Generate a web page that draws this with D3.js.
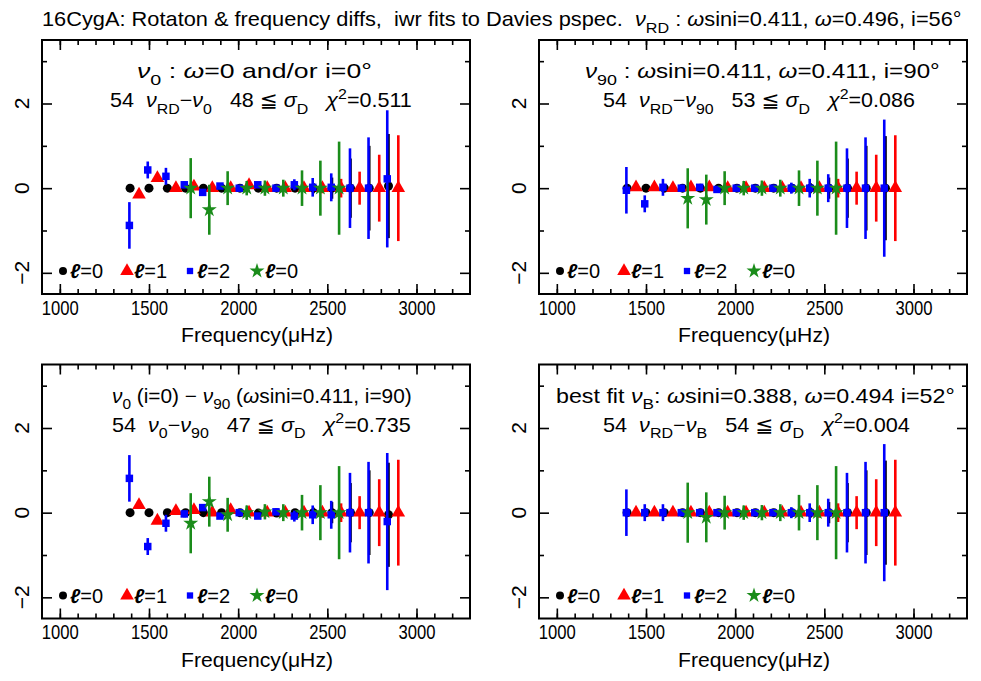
<!DOCTYPE html>
<html><head><meta charset="utf-8">
<script src="https://cdn.jsdelivr.net/npm/d3@7"></script>
<style>
body{margin:0;background:#fff}
svg{display:block}
text{font-family:"Liberation Sans","DejaVu Sans",Arial,sans-serif;fill:#000;white-space:pre}
</style>
</head><body>
<svg id="c" width="981" height="681"></svg>
<script>
// ---------- data ----------
const freqL0 = [1394,1500,1603,1705,1805,1907,2010,2113,2216,2319,2422,2526,2630,2735,2843];
const freqL1 = [1444,1547,1651,1752,1855,1958,2061,2163,2264,2369,2472,2577,2681,2791,2898];
const freqL2 = [1390,1493,1595,1698,1801,1898,2006,2110,2212,2315,2418,2522,2627,2731,2836];
const freqL3 = [1734,1838,1941,2048,2150,2253,2358,2461,2566];

const errL0 = [0.03,0.03,0.03,0.03,0.05,0.05,0.05,0.05,0.05,0.08,0.12,0.25,0.7,1.0,1.23];
const errL1 = [0.04,0.04,0.04,0.04,0.04,0.05,0.05,0.05,0.06,0.08,0.12,0.22,0.39,0.79,1.25];
const errL2 = [0.55,0.2,0.2,0.08,0.07,0.07,0.07,0.07,0.08,0.13,0.22,0.33,0.94,1.2,1.62];
const errL3 = [0.71,0.59,0.4,0.17,0.18,0.2,0.42,0.65,1.1];

// panel 1 : nu_RD - nu_0
const p1L0 = [0,0,0,0,0,0,0,0,0,0,0,0,0,0,0.05];
const p1L1 = [-0.15,0.24,0,0.04,0,0,0.07,0,0,0,0,0,0,0,0];
const p1L2 = [-0.88,0.43,0.28,0.08,-0.1,0.05,0,0.08,0,0.08,0.02,0.02,0,0,0.22];
const p1L3 = [0,-0.51,0,0,0,0,0,0,0];
// panel 2 : nu_RD - nu_90
const p2L0 = [0,0,0,0,0,0,0,0,0,0,0,0,0,0,0];
const p2L1 = [0.02,0.02,0,0.02,0.02,0,0,0,0,0,0,0,0,0,0];
const p2L2 = [-0.05,-0.37,0.02,0,0.02,-0.03,0,0,0,0,0,0,0,0,0];
const p2L3 = [-0.24,-0.27,0,0,0,0,0,0,0];
// panel 3 : nu_0 - nu_90
const p3L0 = [0,0,0,0,0,0,0,-0.01,-0.01,0,0,0,0,0,-0.05];
const p3L1 = [0.18,-0.19,0.04,0.06,0,0.06,0,0,0,0,0,0,0,0,0];
const p3L2 = [0.81,-0.8,-0.25,-0.03,0.12,-0.08,0,-0.08,0.02,-0.08,-0.05,-0.05,0,0,-0.21];
const p3L3 = [-0.25,0.26,-0.05,0,0.02,0,0,0,0];
// panel 4 : nu_RD - nu_B
const p4L0 = [0,0,0,0,0,0,0,0,0,0,0,0,0,0,0];
const p4L1 = [0,0,0,0,0,0,0,0,0,0,0,0,0,0,0];
const p4L2 = [0,0,0,0,0,0,0,0,0,0,0,0,0,0,0];
const p4L3 = [0,-0.11,0,0,0,0,0,0,0];

const xTickValues = [1000,1500,2000,2500,3000];
const xTickLabels = ["1000","1500","2000","2500","3000"];
const yTickValues = [-2,0,2];
const yTickLabels = ["\u22122","0","2"];
const legendLabels = ["=0","=1","=2","=0"];
const xLabel = "Frequency(\u03bcHz)";

// ---------- layout ----------
const W = 428, H = 254;
const svg = d3.select("#c");
const x = d3.scaleLinear().domain([900,3300]).range([0,W]);
const y = d3.scaleLinear().domain([-2.5,3.5]).range([H,0]);
const colors = ["#000000","#ff0000","#0000ff","#1a8c1a"];
const shapes = [d3.symbolCircle,d3.symbolTriangle,d3.symbolSquare,d3.symbolStar];
const sizes = [64,80,56,70];
const freqs = [freqL0,freqL1,freqL2,freqL3];
const errs = [errL0,errL1,errL2,errL3];

const nu="\u03bd", om="\u03c9", sg="\u03c3", chi="\u03c7";
function S(t){return {t:t};}
function I(t){return {t:t,it:true};}
function B(t){return {t:t,sub:true};}
function P(t){return {t:t,sup:true};}

const panels = [
 {x0:42,y0:40,vals:[p1L0,p1L1,p1L2,p1L3],
  l1:[I(nu),B("0"),S(" : "),I(om),S("=0 and/or i=0\u00b0")], l1x:[137,372],
  l2:[S("54  "),I(nu),B("RD"),S("\u2212"),I(nu),B("0"),S("   48 \u2266 "),I(sg),B("D"),S("   "),I(chi),P("2"),S("=0.511")], l2x:[110,412]},
 {x0:539,y0:40,vals:[p2L0,p2L1,p2L2,p2L3],
  l1:[I(nu),B("90"),S(" : "),I(om),S("sini=0.411, "),I(om),S("=0.411, i=90\u00b0")], l1x:[585,940],
  l2:[S("54  "),I(nu),B("RD"),S("\u2212"),I(nu),B("90"),S("   53 \u2266 "),I(sg),B("D"),S("   "),I(chi),P("2"),S("=0.086")], l2x:[603,915]},
 {x0:42,y0:364.5,vals:[p3L0,p3L1,p3L2,p3L3],
  l1:[I(nu),B("0"),S(" (i=0) \u2212 "),I(nu),B("90"),S(" ("),I(om),S("sini=0.411, i=90)")], l1x:[112,412],
  l2:[S("54  "),I(nu),B("0"),S("\u2212"),I(nu),B("90"),S("   47 \u2266 "),I(sg),B("D"),S("   "),I(chi),P("2"),S("=0.735")], l2x:[112,411]},
 {x0:539,y0:364.5,vals:[p4L0,p4L1,p4L2,p4L3],
  l1:[S("best fit "),I(nu),B("B"),S(": "),I(om),S("sini=0.388, "),I(om),S("=0.494 i=52\u00b0")], l1x:[556,955],
  l2:[S("54  "),I(nu),B("RD"),S("\u2212"),I(nu),B("B"),S("   54 \u2266 "),I(sg),B("D"),S("   "),I(chi),P("2"),S("=0.004")], l2x:[603,910]}
];

function richText(parent, segs, x0, x1, yb, size){
  const t = parent.append("text").attr("x",0).attr("y",0).style("font-size",size+"px");
  let cur = 0;
  segs.forEach(s=>{
    const shift = s.sub ? size*0.33 : (s.sup ? -size*0.42 : 0);
    const ts = t.append("tspan").text(s.t).attr("dy",(shift-cur));
    cur = shift;
    if (s.sub||s.sup) ts.style("font-size",(size*0.74)+"px");
    if (s.it) ts.style("font-style","italic");
  });
  const bb = t.node().getBBox();
  const sx = (x1-x0)/bb.width;
  t.attr("transform",`translate(${x0 - bb.x*sx},${yb}) scale(${sx},1)`);
  return t;
}

// title
richText(svg, [S("16CygA: Rotaton & frequency diffs,  iwr fits to Davies pspec.  "),I(nu),B("RD"),S(" : "),I(om),S("sini=0.411, "),I(om),S("=0.496, i=56\u00b0")], 42, 962, 26, 21);

panels.forEach(p=>{
  const g = svg.append("g").attr("transform",`translate(${p.x0},${p.y0})`);
  // ticks
  const minorX = d3.range(1000,3300,100);
  const minorY = [-1,1,3];
  g.append("g").attr("transform",`translate(0,${H})`).call(d3.axisBottom(x).tickValues(minorX).tickSize(-5).tickSizeOuter(0).tickFormat(""));
  g.append("g").attr("transform",`translate(0,${H})`).call(d3.axisBottom(x).tickValues(xTickValues).tickSize(-10).tickSizeOuter(0).tickPadding(6).tickFormat((d,i)=>xTickLabels[i]));
  g.append("g").call(d3.axisTop(x).tickValues(minorX).tickSize(-5).tickSizeOuter(0).tickFormat(""));
  g.append("g").call(d3.axisTop(x).tickValues(xTickValues).tickSize(-10).tickSizeOuter(0).tickFormat(""));
  g.append("g").call(d3.axisLeft(y).tickValues(minorY).tickSize(-5).tickSizeOuter(0).tickFormat(""));
  g.append("g").call(d3.axisLeft(y).tickValues(yTickValues).tickSize(-10).tickSizeOuter(0).tickFormat(""));
  g.append("g").attr("transform",`translate(${W},0)`).call(d3.axisRight(y).tickValues(minorY).tickSize(-5).tickSizeOuter(0).tickFormat(""));
  g.append("g").attr("transform",`translate(${W},0)`).call(d3.axisRight(y).tickValues(yTickValues).tickSize(-10).tickSizeOuter(0).tickFormat(""));
  g.selectAll(".domain").remove();
  g.selectAll(".tick line").attr("stroke","#000").attr("stroke-width",1.6);
  g.selectAll(".tick text").style("font-size","21px").style("font-family",'"Liberation Sans",Arial,sans-serif').attr("fill","#000")
    .attr("textLength",37).attr("lengthAdjust","spacingAndGlyphs");
  // y labels rotated
  yTickValues.forEach((v,i)=>{
    g.append("text").attr("transform",`translate(-13,${y(v)}) rotate(-90)`)
      .attr("text-anchor","middle").style("font-size","21px").text(yTickLabels[i]);
  });
  // x label
  g.append("text").attr("x",W/2+1).attr("y",H+48).attr("text-anchor","middle")
    .attr("textLength",152).attr("lengthAdjust","spacingAndGlyphs").style("font-size","21px").text(xLabel);
  // data
  for (let s=0;s<4;s++){
    const data = freqs[s].map((f,i)=>({f:f,v:p.vals[s][i],e:errs[s][i]}));
    const sg = g.append("g");
    sg.selectAll("line").data(data).join("line")
      .attr("x1",d=>x(d.f)).attr("x2",d=>x(d.f))
      .attr("y1",d=>y(d.v-d.e)).attr("y2",d=>y(d.v+d.e))
      .attr("stroke",colors[s]).attr("stroke-width",2.6);
    sg.selectAll("path").data(data).join("path")
      .attr("transform",d=>`translate(${x(d.f)},${y(d.v)})`)
      .attr("d",d3.symbol(shapes[s],sizes[s]))
      .attr("fill",colors[s]);
  }
  // legend
  const lx = [21,85,148,215], tx = [28,92,155,223];
  for (let s=0;s<4;s++){
    const ls = s===2 ? 40 : (s===0 ? 50 : sizes[s]);
    g.append("path").attr("transform",`translate(${lx[s]},${H-23})`)
      .attr("d",d3.symbol(shapes[s],ls)).attr("fill",colors[s]);
    const t = g.append("text").attr("x",tx[s]).attr("y",H-16).style("font-size","20px");
    t.append("tspan").text("\u2113").style("font-style","italic").style("font-weight","bold");
    t.append("tspan").text(legendLabels[s]);
  }
  // frame
  g.append("rect").attr("x",0).attr("y",0).attr("width",W).attr("height",H)
    .attr("fill","none").attr("stroke","#000").attr("stroke-width",2);
  // annotations
  richText(svg, p.l1, p.l1x[0], p.l1x[1], p.y0+38, 20);
  richText(svg, p.l2, p.l2x[0], p.l2x[1], p.y0+67, 20);
});
</script>
</body></html>
